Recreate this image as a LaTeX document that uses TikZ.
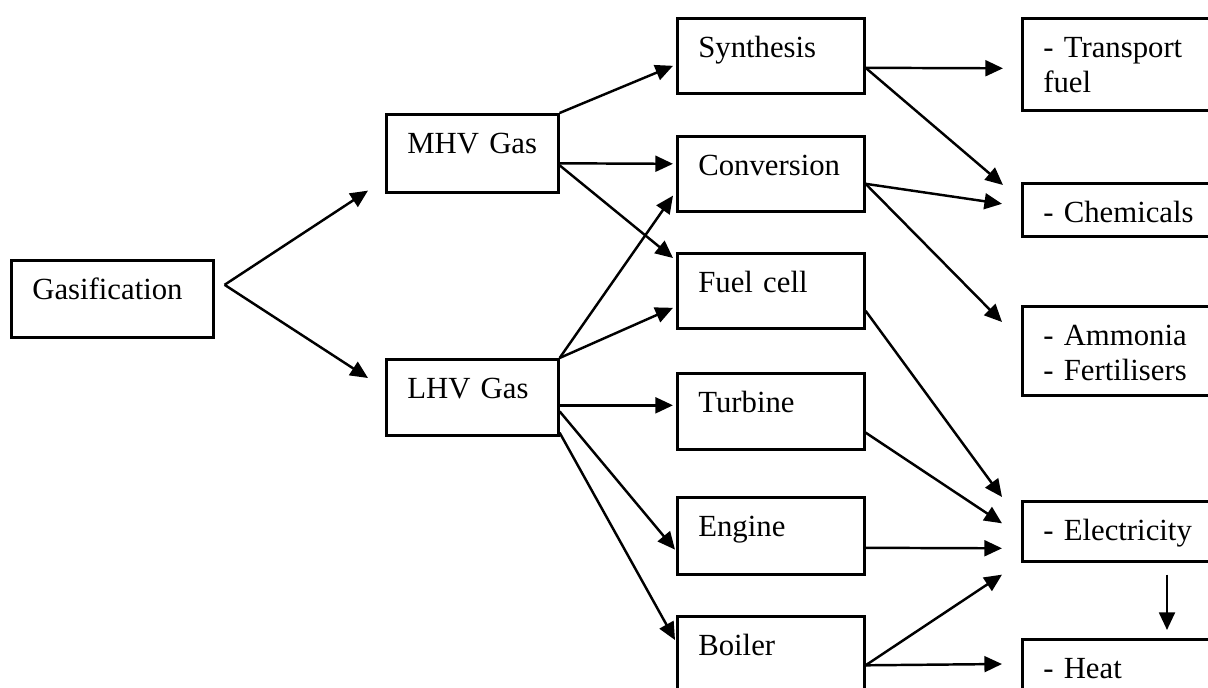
\documentclass[tikz,border=0pt]{standalone}
\usepackage{fontspec}
\setmainfont{Liberation Serif}
\usepackage{tikz}
\usetikzlibrary{arrows.meta}

\begin{document}
\begin{tikzpicture}[
  x=0.02cm, y=-0.02cm,
  font=\fontsize{17.5}{20}\selectfont,
  box/.style={draw, line width=1.5pt, anchor=north west, align=left, inner xsep=0.42cm, inner ysep=0pt, text height=0.78cm},
  arrow/.style={-{Triangle[length=10pt, width=9pt]}, line width=1.4pt}
]
\useasboundingbox (0,0) rectangle (1208,687);
\clip (0,0) rectangle (1208,687);

\node[box, text width=3.2cm, text depth=0.76cm] (gas) at (10,259) {Gasification};

\node[box, text width=2.6cm, text depth=0.78cm] (mhv) at (385,113) {MHV Gas};
\node[box, text width=2.6cm, text depth=0.74cm] (lhv) at (385,358) {LHV Gas};

\node[box, text width=2.9cm, text depth=0.72cm] (syn) at (676,17) {Synthesis};
\node[box, text width=2.9cm, text depth=0.72cm] (conv) at (676,135) {Conversion};
\node[box, text width=2.9cm, text depth=0.72cm] (fuel) at (676,252) {Fuel cell};
\node[box, text width=2.9cm, text depth=0.74cm] (turb) at (676,372) {Turbine};
\node[box, text width=2.9cm, text depth=0.76cm] (eng) at (676,496) {Engine};
\node[box, text width=2.9cm, text depth=0.82cm] (boil) at (676,615) {Boiler};

\node[box, text width=3.56cm, text depth=1.06cm] (trans) at (1021,17) {- Transport\\fuel};
\node[box, text width=3.56cm, text depth=0.28cm] (chem) at (1021,182) {- Chemicals};
\node[box, text width=3.56cm, text depth=1.0cm] (amm) at (1021,305) {- Ammonia\\- Fertilisers};
\node[box, text width=3.56cm, text depth=0.42cm] (elec) at (1021,500) {- Electricity};
\node[box, text width=3.56cm, text depth=0.46cm] (heat) at (1021,638) {- Heat};

\coordinate (fork) at ([shift={(10,-14)}]gas.east);
\draw[arrow] (fork) -- ([shift={(-17,-3)}]mhv.south west);
\draw[arrow] (fork) -- ([shift={(-17,20)}]lhv.north west);

\draw[arrow] (mhv.north east) -- ([shift={(-3,10)}]syn.west);
\draw[arrow] ([shift={(0,10)}]mhv.east) -- ([shift={(-3,-10)}]conv.west);
\draw[arrow] ([shift={(0,12)}]mhv.east) -- ([shift={(-3,6)}]fuel.north west);

\draw[arrow] (lhv.north east) -- ([shift={(-3,-17)}]conv.south west);
\draw[arrow] (lhv.north east) -- ([shift={(-3,17)}]fuel.west);
\draw[arrow] ([shift={(0,8)}]lhv.east) -- ([shift={(-3,-6)}]turb.west);
\draw[arrow] ([shift={(0,14)}]lhv.east) -- ([shift={(-1,-26)}]eng.south west);
\draw[arrow] ([shift={(0,-4)}]lhv.south east) -- ([shift={(-1,25)}]boil.north west);

\draw[arrow] ([shift={(0,12)}]syn.east) -- ([shift={(-18,4)}]trans.west);
\draw[arrow] ([shift={(0,12)}]syn.east) -- ([shift={(-18,3)}]chem.north west);
\draw[arrow] ([shift={(0,10)}]conv.east) -- ([shift={(-19,-6)}]chem.west);
\draw[arrow] ([shift={(0,10)}]conv.east) -- ([shift={(-19,17)}]amm.north west);

\draw[arrow] ([shift={(0,20)}]fuel.east) -- ([shift={(-19,-3)}]elec.north west);
\draw[arrow] ([shift={(0,-18)}]turb.south east) -- ([shift={(-19,-8)}]elec.west);
\draw[arrow] ([shift={(0,12)}]eng.east) -- ([shift={(-19,17)}]elec.west);
\draw[arrow] ([shift={(0,9)}]boil.east) -- ([shift={(-19,12)}]elec.south west);
\draw[arrow] ([shift={(0,9)}]boil.east) -- ([shift={(-19,26)}]heat.north west);

\draw[arrow] ([shift={(146,12)}]elec.south west) -- ([shift={(146,-8)}]heat.north west);
\end{tikzpicture}
\end{document}
